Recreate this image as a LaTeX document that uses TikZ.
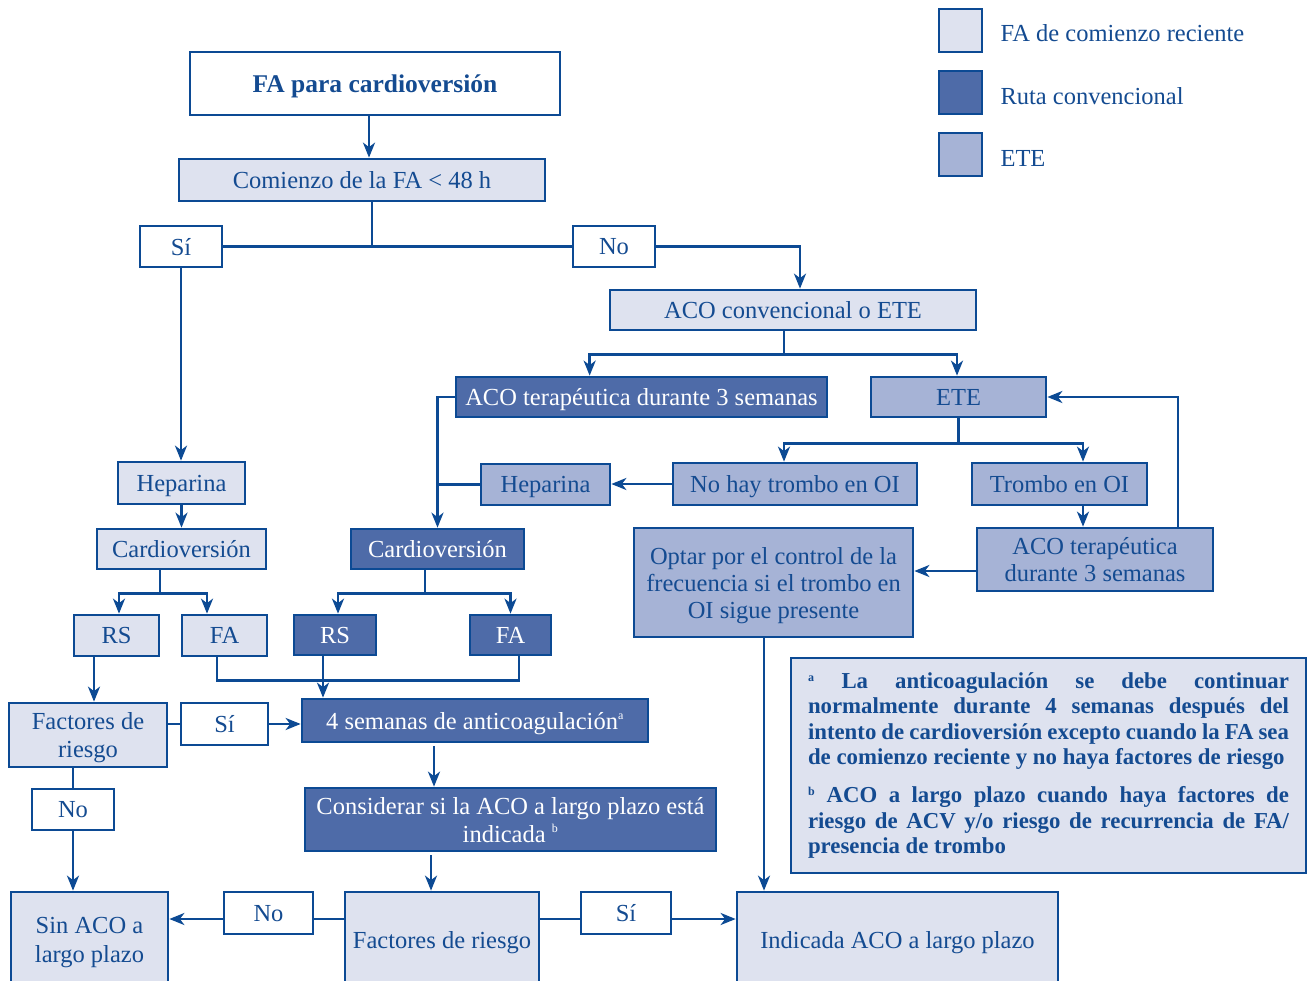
\documentclass[tikz,border=0pt]{standalone}
\usepackage{fontspec}
\setmainfont{Liberation Serif}
\usetikzlibrary{arrows.meta,calc}
\definecolor{ln}{RGB}{12,74,148}
\definecolor{lf}{RGB}{222,226,239}
\definecolor{mf}{RGB}{166,179,214}
\definecolor{df}{RGB}{78,107,168}
\definecolor{tx}{RGB}{20,75,145}
\tikzset{
 box/.style={draw=ln, line width=2.7pt, text=tx, inner sep=2pt, align=center, text depth=-2.5pt, font=\fontsize{24.5}{28}\selectfont},
 wbox/.style={box, fill=white},
 lbox/.style={box, fill=lf},
 mbox/.style={box, fill=mf},
 dbox/.style={box, fill=df, text=white},
 wh/.style 2 args={minimum width=#1pt, minimum height=#2pt},
 conn/.style={draw=ln, line width=2.6pt},
 arr/.style={conn, -{Stealth[length=15pt,width=12pt,inset=4.5pt]}},
 legtext/.style={anchor=west, text=tx, font=\fontsize{24.5}{28}\selectfont},
}
\begin{document}
\begin{tikzpicture}[x=1pt,y=-1pt]
\useasboundingbox (0,0) rectangle (1309,981);
% legend
\node[lbox, wh={43}{43}] (lg1) at (960.5,30.5) {};
\node[dbox, wh={43}{43}] (lg2) at (960.5,92.5) {};
\node[mbox, wh={43}{43}] (lg3) at (960.5,154.5) {};
\node[legtext] (lt1) at (997,33) {FA de comienzo reciente};
\node[legtext] (lt2) at (997,96) {Ruta convencional};
\node[legtext] (lt3) at (997,158) {ETE};
% nodes
\node[wbox, wh={370}{63}, font=\bfseries\fontsize{25.5}{28}\selectfont] (title) at (375,83.5) {FA para cardioversión};
\node[lbox, wh={366}{42}] (com) at (362,180) {Comienzo de la FA < 48 h};
\node[wbox, wh={82}{41}] (si1) at (181,246.5) {Sí};
\node[wbox, wh={82}{41}] (no1) at (614,246.5) {No};
\node[lbox, wh={366}{40}] (acoconv) at (793,310) {ACO convencional o ETE};
\node[dbox, wh={371}{40}] (acoter) at (641.5,397) {ACO terapéutica durante 3 semanas};
\node[mbox, wh={175}{40}] (ete) at (958.5,397) {ETE};
\node[lbox, wh={127}{42}] (hep1) at (181.5,483) {Heparina};
\node[lbox, wh={169}{40}] (card1) at (181.5,549) {Cardioversión};
\node[lbox, wh={85}{41}] (rs1) at (116.5,635.5) {RS};
\node[lbox, wh={85}{41}] (fa1) at (224.5,635.5) {FA};
\node[mbox, wh={129}{41}] (hep2) at (545.5,484.5) {Heparina};
\node[mbox, wh={244}{42}] (nohay) at (795,484) {No hay trombo en OI};
\node[mbox, wh={175}{42}] (trombo) at (1059.5,484) {Trombo en OI};
\node[mbox, wh={236}{63}, font=\fontsize{24.5}{27}\selectfont] (acoter2) at (1095,559.5) {ACO terapéutica\\durante 3 semanas};
\node[mbox, wh={279}{109}, font=\fontsize{24.5}{27}\selectfont] (optar) at (773.5,582.5) {Optar por el control de la\\frecuencia si el trombo en\\OI sigue presente};
\node[dbox, wh={173}{40}] (card2) at (437.5,549) {Cardioversión};
\node[dbox, wh={82}{40}] (rs2) at (335,635) {RS};
\node[dbox, wh={81}{40}] (fa2) at (510.5,635) {FA};
\node[lbox, wh={158}{64}] (fr1) at (88,735) {Factores de\\riesgo};
\node[wbox, wh={87}{42}] (si2) at (224.5,724) {Sí};
\node[dbox, wh={346}{43}] (four) at (475,720.5) {4 semanas de anticoagulación\textsuperscript{\fontsize{12}{12}\selectfont a}};
\node[wbox, wh={82}{41}] (no2) at (73,809.5) {No};
\node[dbox, wh={411}{63}] (cons) at (510.5,819.5) {Considerar si la ACO a largo plazo está\\indicada \textsuperscript{\fontsize{12}{12}\selectfont b}};
\node[lbox, wh={157}{96}, font=\fontsize{24.5}{29}\selectfont] (sinaco) at (89.5,940) {Sin ACO a\\largo plazo};
\node[lbox, wh={194}{96}] (fr2) at (442,940) {Factores de riesgo};
\node[wbox, wh={89}{42}] (no3) at (268.5,913) {No};
\node[wbox, wh={90}{42}] (si3) at (626,913) {Sí};
\node[lbox, wh={321}{96}] (ind) at (897.5,940) {Indicada ACO a largo plazo};
\node[lbox, text depth={}, wh={515}{215}, text width=481pt, align=justify, font=\bfseries\fontsize{22.8}{25.3}\selectfont] (note) at (1048.5,765.5)
 {\textsuperscript{\fontsize{12}{12}\selectfont a} La anticoagulación se debe continuar\linebreak normalmente durante 4 semanas después del\linebreak intento de cardioversión excepto cuando la FA sea\linebreak de comienzo reciente y no haya factores de riesgo\par\vspace{13pt}
 \textsuperscript{\fontsize{12}{12}\selectfont b} ACO a largo plazo cuando haya factores de\linebreak riesgo de ACV y/o riesgo de recurrencia de FA/\linebreak presencia de trombo\par};
% connectors
\coordinate (c0) at ($(title.south)+(-6,0)$);
\draw[arr] (c0) -- (c0 |- com.north);
\coordinate (c1) at ($(com.south)+(10,0)$);
\draw[conn] (c1) -- (c1 |- si1.east);
\draw[conn] (si1.east) -- (no1.west);
\draw[arr] (no1.east) -| ($(acoconv.north)+(7,0)$);
\coordinate (c2) at ($(acoconv.south)+(-9,0)$);
\draw[conn] (c2) -- ++(0,23) coordinate (f1);
\draw[arr] (f1) -| ($(acoter.north west)+(135,0)$);
\draw[arr] (f1) -| ($(ete.north)+(-1.5,0)$);
\draw[arr] (si1.south) -- (si1.south |- hep1.north);
\draw[arr] (hep1.south) -- (hep1.south |- card1.north);
\coordinate (c3) at ($(card1.south)+(-21.5,0)$);
\draw[conn] (c3) -- ++(0,23) coordinate (f2);
\draw[arr] (f2) -| ($(rs1.north)+(2.5,0)$);
\draw[arr] (f2) -| ($(fa1.north)+(-17.5,0)$);
\coordinate (c4) at ($(card2.south)+(-12.5,0)$);
\draw[conn] (c4) -- ++(0,23) coordinate (f3);
\draw[arr] (f3) -| ($(rs2.north)+(3,0)$);
\draw[arr] (f3) -| (fa2.north);
\draw[arr] (acoter.west) -| (card2.north);
\draw[conn] (hep2.west) -- (hep2.west -| card2.north);
\draw[conn] (ete.south) -- ++(0,25) coordinate (f4);
\draw[arr] (f4) -| ($(nohay.north)+(-11,0)$);
\draw[arr] (f4) -| ($(trombo.north)+(23.5,0)$);
\draw[arr] (nohay.west) -- (nohay.west -| hep2.east);
\coordinate (c5) at ($(trombo.south)+(23.5,0)$);
\draw[arr] (c5) -- (c5 |- acoter2.north);
\coordinate (c6) at ($(acoter2.north)+(83,0)$);
\draw[arr] (c6) |- (ete.east);
\coordinate (c7) at ($(acoter2.west)+(0,11.5)$);
\draw[arr] (c7) -- (c7 -| optar.east);
\coordinate (c8) at ($(optar.south)+(-9.5,0)$);
\draw[arr] (c8) -- (c8 |- ind.north);
\coordinate (c9) at ($(rs1.south)+(-22.5,0)$);
\draw[arr] (c9) -- (c9 |- fr1.north);
\coordinate (c10) at ($(fa1.south)+(-7.5,0)$);
\coordinate (c11) at ($(fa2.south)+(8.5,0)$);
\draw[conn] (c10) -- ++(0,23) -| (c11);
\coordinate (c12) at ($(rs2.south)+(-12,0)$);
\draw[arr] (c12) -- (c12 |- four.north);
\draw[conn] (si2.west -| fr1.east) -- (si2.west);
\draw[arr] (si2.east) -- (si2.east -| four.west);
\coordinate (c13) at ($(four.south)+(-41,3)$);
\draw[arr] (c13) -- (c13 |- cons.north);
\coordinate (c14) at ($(cons.south)+(-79.5,3)$);
\draw[arr] (c14) -- (c14 |- fr2.north);
\draw[conn] (no2.north |- fr1.south) -- (no2.north);
\draw[arr] (no2.south) -- (no2.south |- sinaco.north);
\coordinate (c15) at ($(no3.east)+(0,6)$);
\draw[conn] (c15 -| fr2.west) -- (c15);
\coordinate (c16) at ($(no3.west)+(0,6)$);
\draw[arr] (c16) -- (c16 -| sinaco.east);
\coordinate (c17) at ($(si3.west)+(0,6)$);
\draw[conn] (c17 -| fr2.east) -- (c17);
\coordinate (c18) at ($(si3.east)+(0,6)$);
\draw[arr] (c18) -- (c18 -| ind.west);
\end{tikzpicture}
\end{document}
